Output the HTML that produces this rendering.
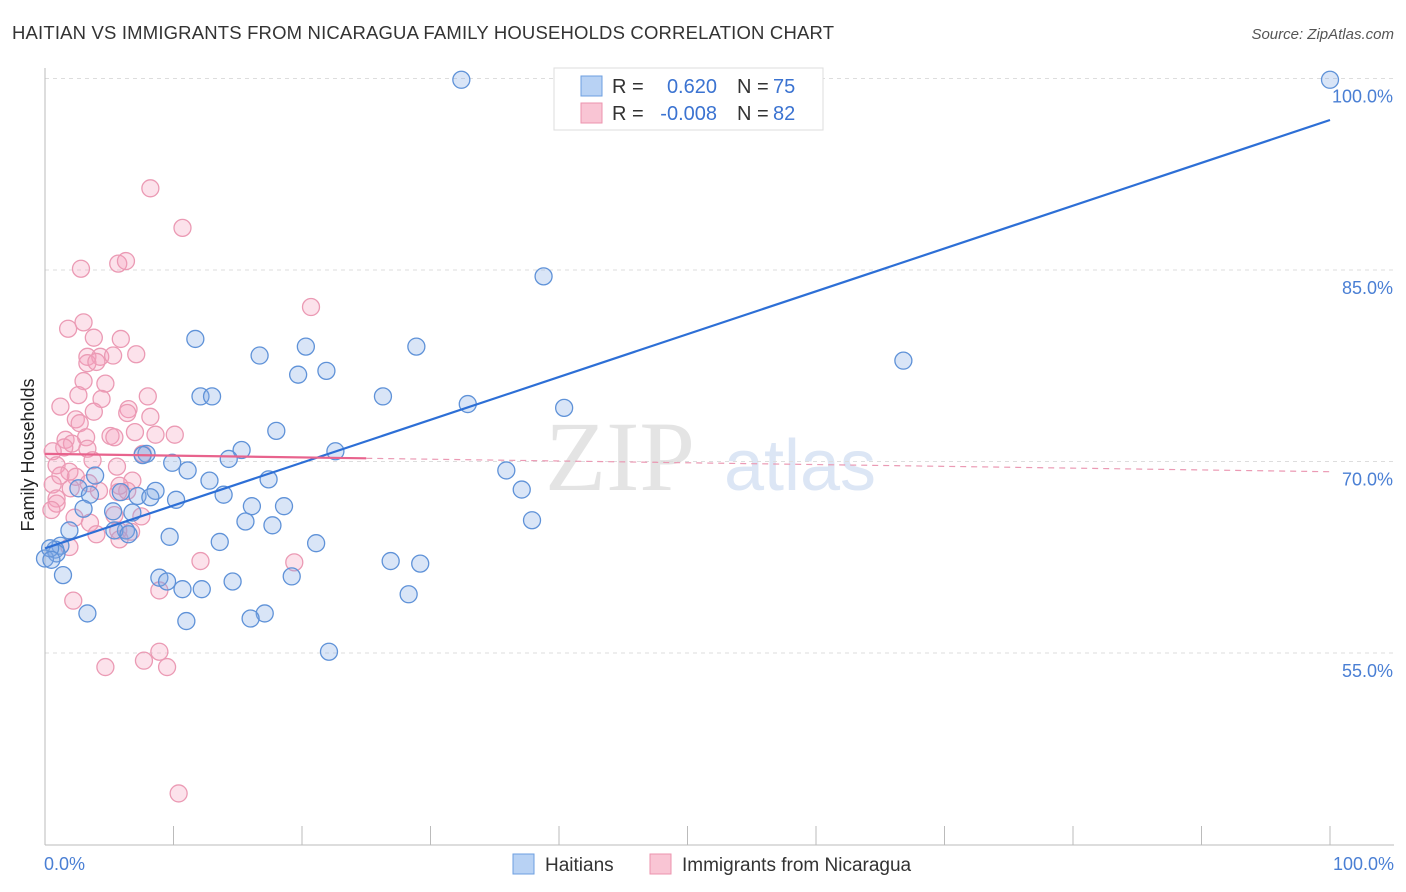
<!DOCTYPE html>
<html><head><meta charset="utf-8"><style>
body{margin:0;background:#fff;font-family:"Liberation Sans",sans-serif;}
svg{display:block}
</style></head><body>
<svg id="c" width="1406" height="892" xmlns="http://www.w3.org/2000/svg">
<text x="12" y="39" font-size="18.5" fill="#333" textLength="822">HAITIAN VS IMMIGRANTS FROM NICARAGUA FAMILY HOUSEHOLDS CORRELATION CHART</text>
<text x="1394" y="39" font-size="15" fill="#555" font-style="italic" text-anchor="end">Source: ZipAtlas.com</text>
<text x="34" y="455" font-size="18" fill="#222" transform="rotate(-90 34 455)" text-anchor="middle">Family Households</text>
<text x="620" y="490" font-size="100" fill="#e4e4e4" font-family="Liberation Serif" text-anchor="middle">ZIP</text>
<text x="800" y="490" font-size="72" fill="#dce6f5" text-anchor="middle">atlas</text>
<g id="grid"></g><g id="axes"></g><g id="pts"></g><g id="lines"></g>
<g>
<rect x="554" y="68" width="269" height="62" fill="#fff" stroke="#ddd"/>
<rect x="581" y="76" width="21" height="20" fill="#b8d2f4" stroke="#6d9fe0"/>
<rect x="581" y="103" width="21" height="20" fill="#f9c5d4" stroke="#ec93ae"/>
<text x="612" y="93" font-size="20" fill="#333">R = </text><text x="717" y="93" font-size="20" fill="#3b73d1" text-anchor="end">0.620</text>
<text x="737" y="93" font-size="20" fill="#333">N = </text><text x="773" y="93" font-size="20" fill="#3b73d1">75</text>
<text x="612" y="120" font-size="20" fill="#333">R = </text><text x="717" y="120" font-size="20" fill="#3b73d1" text-anchor="end">-0.008</text>
<text x="737" y="120" font-size="20" fill="#333">N = </text><text x="773" y="120" font-size="20" fill="#3b73d1">82</text>
</g>
<g>
<rect x="513" y="854" width="21" height="20" fill="#b8d2f4" stroke="#6d9fe0"/>
<text x="545" y="871" font-size="19" fill="#333">Haitians</text>
<rect x="650" y="854" width="21" height="20" fill="#f9c5d4" stroke="#ec93ae"/>
<text x="682" y="871" font-size="19" fill="#333">Immigrants from Nicaragua</text>
</g>
</svg>
<script>
const yTicks=[55,70,85,100];
const yTickLabels=["55.0%","70.0%","85.0%","100.0%"];
const xLabels=["0.0%","100.0%"];
const blueX=[32.4,100,38.8,66.8,11.7,16.7,20.3,28.9,19.7,21.9,12.1,13.0,26.3,32.9,40.4,18.0,15.3,22.6,7.9,7.6,14.3,9.9,11.1,35.9,12.8,17.4,3.9,37.1,8.6,2.6,3.5,5.9,7.2,8.2,13.9,10.2,18.6,16.1,3.0,5.3,6.8,15.6,17.7,37.9,6.3,1.9,5.4,6.5,9.7,13.6,21.1,1.2,0.8,0.9,0,26.9,29.2,1.4,8.9,9.5,14.6,19.2,10.7,12.2,28.3,3.3,17.1,16.0,11.0,22.1,0.4,0.5];
const blueY=[99.9,99.9,84.5,77.9,79.6,78.3,79.0,79.0,76.8,77.1,75.1,75.1,75.1,74.5,74.2,72.4,70.9,70.8,70.6,70.5,70.2,69.9,69.3,69.3,68.5,68.6,68.9,67.8,67.7,67.9,67.4,67.6,67.3,67.2,67.4,67.0,66.5,66.5,66.3,66.1,66.0,65.3,65.0,65.4,64.6,64.6,64.6,64.3,64.1,63.7,63.6,63.4,63.1,62.8,62.4,62.2,62.0,61.1,60.9,60.6,60.6,61.0,60.0,60.0,59.6,58.1,58.1,57.7,57.5,55.1,63.2,62.3];
const pinkX=[8.2,10.7,2.8,5.7,6.3,20.7,3.0,1.8,3.8,5.9,3.3,4.3,5.3,7.1,3.3,4.0,3.0,4.7,2.6,8.0,4.4,6.5,6.4,1.2,3.8,2.4,8.2,2.7,7.0,8.6,10.1,5.1,5.4,1.6,3.2,2.1,1.5,3.3,7.6,0.6,3.7,0.9,1.9,5.6,2.4,1.2,6.8,6.4,0.6,2.0,4.2,5.7,0.9,0.9,0.5,3.5,2.3,5.4,7.5,5.7,6.7,4.0,5.8,1.9,12.1,19.4,8.9,2.2,8.9,4.7,7.7,9.5,10.4,5.8,3.4];
const pinkY=[91.4,88.3,85.1,85.5,85.7,82.1,80.9,80.4,79.7,79.6,78.2,78.2,78.3,78.4,77.7,77.8,76.3,76.1,75.2,75.1,74.9,74.1,73.8,74.3,73.9,73.3,73.5,73.0,72.3,72.1,72.1,72.0,71.9,71.7,71.9,71.4,71.1,71.0,70.6,70.8,70.1,69.7,69.2,69.6,68.8,68.9,68.5,67.7,68.2,67.9,67.7,67.6,67.1,66.7,66.2,65.2,65.6,65.8,65.7,64.6,64.5,64.3,63.9,63.3,62.2,62.1,59.9,59.1,55.1,53.9,54.4,53.9,44.0,68.1,68.3];
const blueLine=[63.2,96.75];
const pinkLine=[70.6,69.2];
const L=45,R=1330,T=78.5,PX=191.5/15;
const X=v=>L+v/100*(R-L), Y=v=>T+(100-v)*PX;
const NS="http://www.w3.org/2000/svg";
function mk(tag,at,parent){const e=document.createElementNS(NS,tag);for(const k in at)e.setAttribute(k,at[k]);parent.appendChild(e);return e;}
const grid=document.getElementById('grid'),axes=document.getElementById('axes'),pts=document.getElementById('pts'),lines=document.getElementById('lines');
yTicks.forEach((t,i)=>{
 const g=mk('line',{x1:L,x2:1394,y1:Y(t),y2:Y(t),stroke:'#ddd','stroke-dasharray':'4,4'},grid);
 
 
 const tx=mk('text',{x:1393,y:Y(t)+24,'font-size':18,fill:'#4a7fd4','text-anchor':'end'},axes);
 tx.textContent=yTickLabels[i];
 
 
});
const ax=mk('line',{x1:L,x2:L,y1:68,y2:845,stroke:'#bbb'},axes);


const bx=mk('line',{x1:L,x2:1394,y1:845,y2:845,stroke:'#bbb'},axes);


for(let i=0;i<=10;i++){const tk=mk('line',{x1:X(i*10),x2:X(i*10),y1:826,y2:845,stroke:'#bbb'},axes);
 
 }
[[X(0)-1,'start'],[1394,'end']].forEach((p,i)=>{const t=mk('text',{x:p[0],y:870,'font-size':18,fill:'#4a7fd4','text-anchor':p[1]},axes);t.textContent=xLabels[i];
 
 });
pinkX.forEach((v,i)=>{const c=mk('circle',{cx:X(v),cy:Y(pinkY[i]),r:8.5,fill:'rgba(244,160,190,0.3)',stroke:'#eb9ab4','stroke-width':1.3},pts);
 
 });
blueX.forEach((v,i)=>{const c=mk('circle',{cx:X(v),cy:Y(blueY[i]),r:8.5,fill:'rgba(130,170,230,0.3)',stroke:'#5f92d8','stroke-width':1.3},pts);
 
 });
const bl=mk('line',{x1:X(0),y1:Y(blueLine[0]),x2:X(100),y2:Y(blueLine[1]),stroke:'#2d6fd6','stroke-width':2.2},lines);


const pAt=x=>pinkLine[0]+(pinkLine[1]-pinkLine[0])*x/100;
const pl=mk('line',{x1:X(0),y1:Y(pAt(0)),x2:X(25),y2:Y(pAt(25)),stroke:'#e8638d','stroke-width':2.2},lines);


const pd=mk('line',{x1:X(25),y1:Y(pAt(25)),x2:X(100),y2:Y(pAt(100)),stroke:'#eb9ab4','stroke-width':1.2,'stroke-dasharray':'6,5'},lines);


</script>
</body></html>
